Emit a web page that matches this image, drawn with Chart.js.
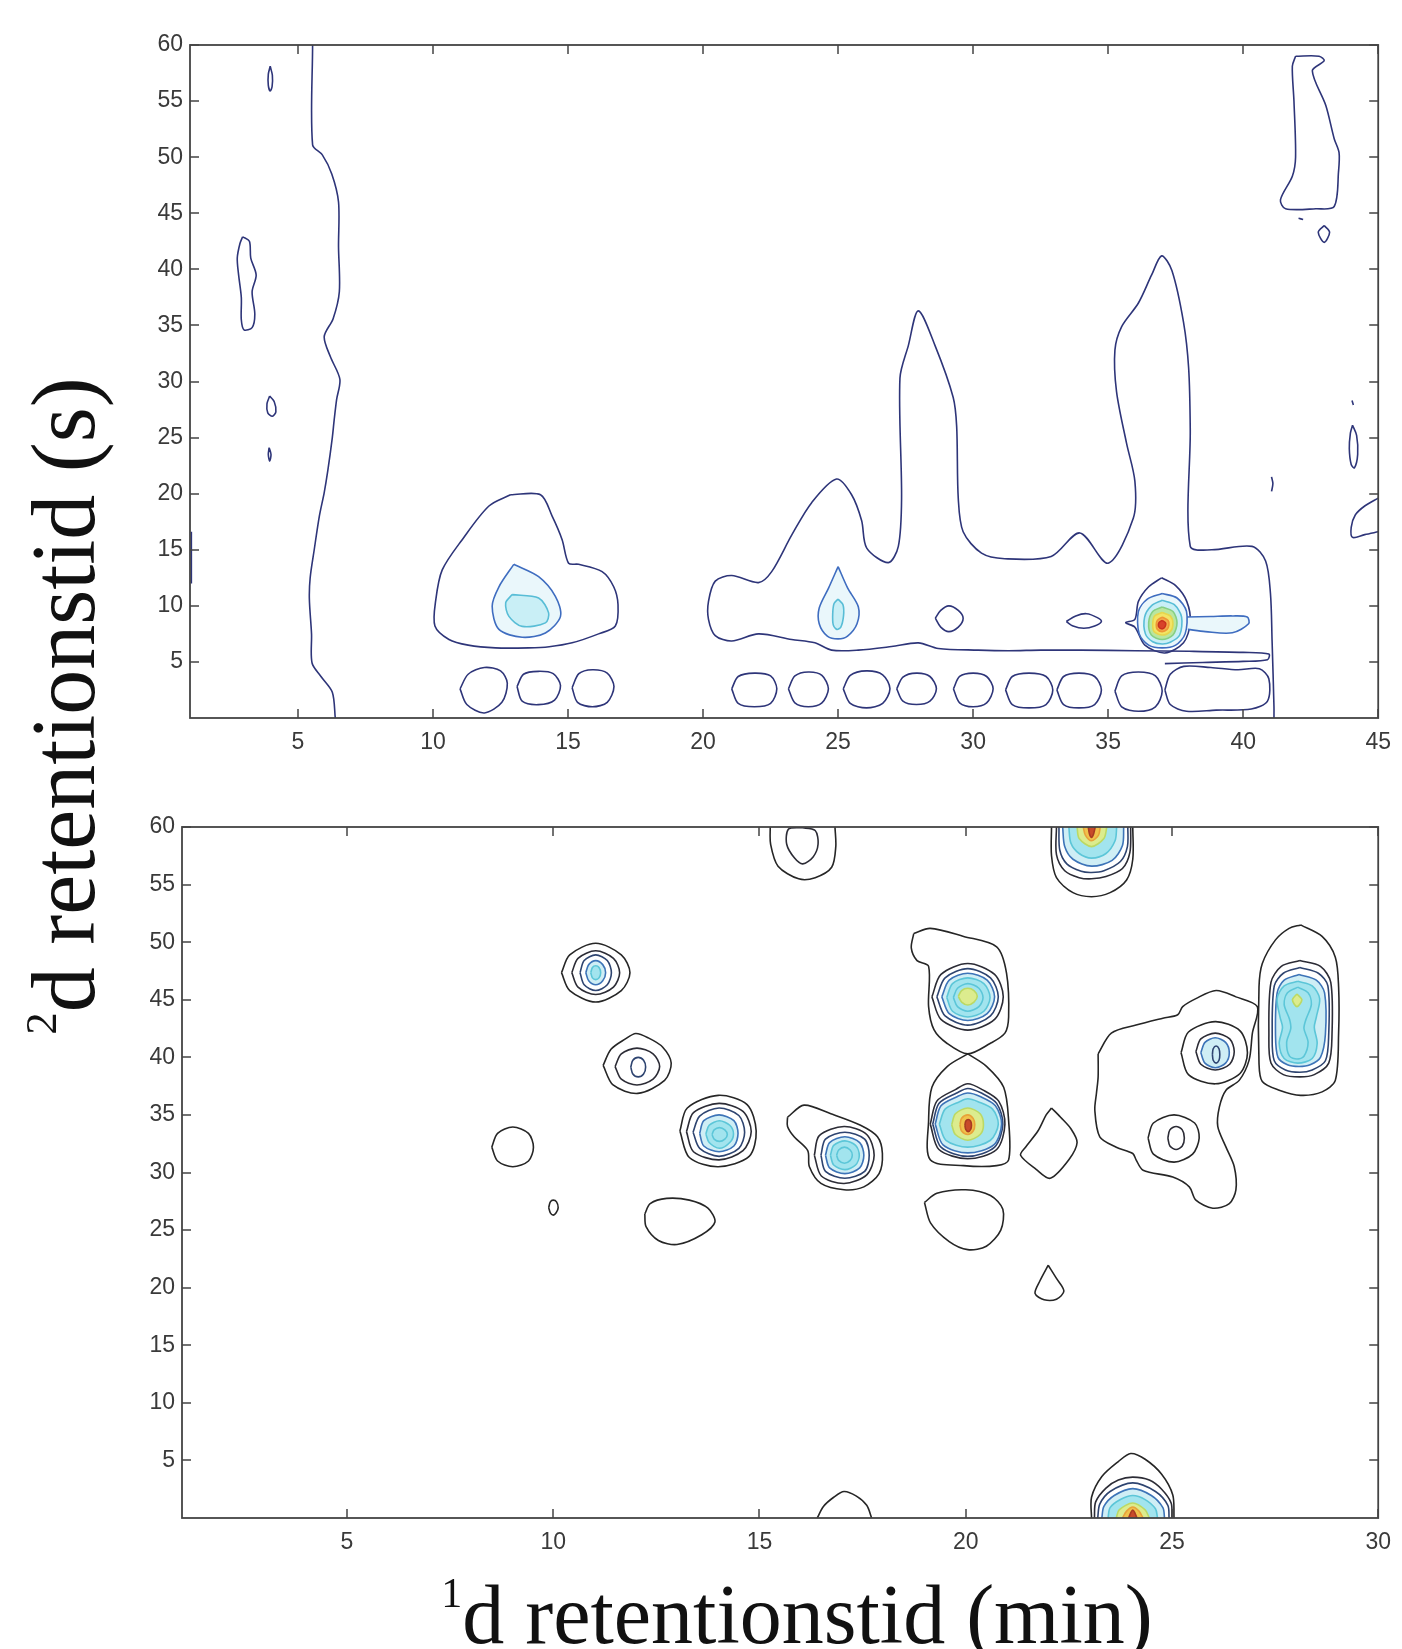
<!DOCTYPE html>
<html>
<head>
<meta charset="utf-8">
<title>2D retention contour</title>
<script src="https://cdn.jsdelivr.net/npm/chart.js@4.4.1/dist/chart.umd.min.js"></script>
<style>
  html, body { margin: 0; padding: 0; background: #fff; }
  body { width: 1402px; height: 1649px; position: relative; overflow: hidden; }
  canvas { position: absolute; left: 0; }
  #cTop { top: 0; }
  #cBottom { top: 780px; }
  .title { position: absolute; font-family: 'Liberation Serif', 'Times New Roman', serif; color: #111; white-space: nowrap; text-align: center; }
  .title sup { font-size: 0.5em; vertical-align: 0.85em; line-height: 0; }
  #xTitle { left: 397px; top: 1573px; width: 800px; font-size: 84px; line-height: 84px; }
  #yTitle { left: -336px; top: 661px; width: 800px; height: 90px; font-size: 90px; line-height: 90px; transform: rotate(-90deg); }
</style>
</head>
<body>
<canvas id="cTop" width="1402" height="780"></canvas>
<canvas id="cBottom" width="1402" height="869"></canvas>
<div class="title" id="yTitle"><sup>2</sup>d retentionstid (s)</div>
<div class="title" id="xTitle"><sup>1</sup>d retentionstid (min)</div>
<script>
// tick labels
const topXTicks = [5, 10, 15, 20, 25, 30, 35, 40, 45];
const topYTicks = [5, 10, 15, 20, 25, 30, 35, 40, 45, 50, 55, 60];
const bottomXTicks = [5, 10, 15, 20, 25, 30];
const bottomYTicks = [5, 10, 15, 20, 25, 30, 35, 40, 45, 50, 55, 60];

// contours: [level, x1, y1, x2, y2, ...]  (x = 1d min, y = 2d s)
// ---- upper panel ----
const topDrift = [
  [1, 5.54,60, 5.54,51.1, 5.9,50.2, 6.25,48.5, 6.5,46, 6.5,42, 6.53,38, 6.3,35.6, 5.97,34, 6.2,32.2, 6.55,30.2, 6.43,28.4, 6.34,26.6, 6.27,25, 6.1,22, 5.97,20.1, 5.79,18, 5.6,15, 5.45,12.5, 5.42,10.6, 5.5,7.5, 5.52,4.9, 5.85,3.7, 6.27,2.3, 6.38,0],
  [1, 1.05,16.6, 1.05,12.0]
];
const topSpecks = [
  [1, 2.95,42.9, 3.2,42.5, 3.25,41, 3.45,39.5, 3.3,38, 3.4,36, 3.3,34.8, 3.0,34.6, 2.9,35.5, 2.9,37.5, 2.8,39.5, 2.75,41, 2.85,42.3, 2.95,42.9],
  [1, 3.97,58.1, 4.05,57.3, 4.04,56.3, 3.97,55.9, 3.9,56.4, 3.9,57.4, 3.97,58.1],
  [1, 3.95,28.7, 4.12,28.2, 4.18,27.3, 4.05,26.9, 3.88,27.2, 3.85,28.0, 3.95,28.7],
  [1, 3.93,24.1, 4.0,23.5, 3.95,22.9, 3.9,23.5, 3.93,24.1]
];
const topPeak13 = [
  [1, 12.87,19.9, 13.98,19.9, 14.41,18.0, 14.78,15.9, 15.02,13.8, 15.39,13.7, 16.26,13.05, 16.69,11.7, 16.85,10.1, 16.75,8.2, 16.13,7.5, 15.15,6.7, 14.3,6.35, 13.54,6.25, 12.31,6.25, 11.3,6.5, 10.59,7.0, 10.07,8.2, 10.1,10.5, 10.34,13.2, 11.08,15.9, 12.07,18.9, 12.87,19.9],
  [2, 12.99,13.7, 13.91,12.6, 14.53,10.85, 14.72,9.06, 14.16,7.58, 13.3,7.2, 12.44,7.9, 12.19,9.96, 12.44,11.7, 12.99,13.7],
  [3, 12.93,11.0, 13.91,10.7, 14.28,9.37, 14.16,8.48, 13.3,8.17, 12.81,9.06, 12.69,10.26, 12.93,11.0],
  [1, 11.0,2.6, 11.3,3.9, 11.9,4.5, 12.5,4.2, 12.75,3.1, 12.55,1.4, 11.9,0.45, 11.25,1.2, 11.0,2.6],
  [1, 13.11,2.8, 13.35,3.9, 13.9,4.16, 14.45,3.95, 14.72,2.9, 14.5,1.6, 13.9,1.19, 13.3,1.5, 13.11,2.8],
  [1, 15.15,2.7, 15.4,3.95, 15.9,4.3, 16.45,4.0, 16.7,2.8, 16.45,1.4, 15.9,1.0, 15.35,1.4, 15.15,2.7]
];
const topRidge = [
  [1, 37.1,4.85, 38.5,4.95, 40.0,5.05, 40.9,5.2, 40.95,5.7, 40.0,5.85, 38,5.95, 36,6.0, 34,6.05, 32.5,6.05, 31.3,6.0, 30.19,6.05, 28.71,6.2, 27.97,6.7, 26.98,6.37, 25.75,6.05, 24.76,6.05, 24.14,6.7, 23.28,7.0, 22.05,7.5, 21.06,6.86, 20.45,7.35, 20.2,8.8, 20.2,10.4, 20.45,12.2, 21.06,12.7, 22.05,12.07, 22.54,13.05, 23.28,16.3, 24.02,19.2, 24.94,21.3, 25.5,19.9, 25.87,17.6, 26.06,15.15, 26.86,13.85, 27.23,15.3, 27.35,19.55, 27.29,30.3, 27.6,33.2, 27.97,36.3, 28.59,33.2, 29.26,28.6, 29.39,26.0, 29.45,19.55, 29.63,16.6, 30.31,14.7, 31.17,14.2, 32.89,14.4, 33.95,16.5, 35.0,13.8, 35.93,17.8, 35.99,21.1, 35.68,24.5, 35.31,29.1, 35.25,32.8, 35.5,34.9, 36.12,37.0, 36.61,39.5, 36.98,41.2, 37.36,39.9, 37.79,35.3, 37.98,31.2, 38.04,25.7, 38.04,15.3, 38.84,15.0, 40.33,15.3, 40.83,14.0, 41.01,11.1, 41.07,6.9, 41.14,1.0, 41.14,0],
  [1, 21.06,2.6, 21.3,3.7, 21.9,4.0, 22.5,3.75, 22.73,2.6, 22.5,1.3, 21.9,1.0, 21.3,1.3, 21.06,2.6],
  [1, 23.16,2.6, 23.4,3.75, 23.9,4.1, 24.4,3.8, 24.64,2.6, 24.4,1.35, 23.9,1.0, 23.4,1.35, 23.16,2.6],
  [1, 25.19,2.6, 25.45,3.8, 26.05,4.2, 26.65,3.85, 26.92,2.6, 26.65,1.3, 26.05,0.9, 25.45,1.3, 25.19,2.6],
  [1, 27.17,2.6, 27.4,3.65, 27.9,4.0, 28.4,3.7, 28.64,2.6, 28.4,1.5, 27.9,1.2, 27.4,1.5, 27.17,2.6],
  [1, 29.27,2.6, 29.5,3.7, 30.0,4.0, 30.5,3.7, 30.74,2.6, 30.5,1.35, 30.0,1.0, 29.5,1.35, 29.27,2.6],
  [1, 31.2,2.5, 31.45,3.7, 32.07,4.0, 32.7,3.7, 32.95,2.5, 32.7,1.2, 32.07,0.9, 31.45,1.2, 31.2,2.5],
  [1, 33.1,2.5, 33.35,3.7, 33.92,4.0, 34.5,3.7, 34.75,2.5, 34.5,1.2, 33.92,0.9, 33.35,1.2, 33.1,2.5],
  [1, 35.25,2.4, 35.5,3.75, 36.12,4.1, 36.75,3.75, 37.0,2.4, 36.75,1.0, 36.12,0.6, 35.5,1.0, 35.25,2.4],
  [1, 37.1,2.5, 37.3,3.9, 37.8,4.6, 38.8,4.5, 39.8,4.3, 40.6,4.4, 40.95,3.5, 40.9,1.5, 40.3,0.8, 39.0,0.7, 37.9,0.6, 37.3,1.2, 37.1,2.5],
  [1, 28.6,8.9, 28.8,9.6, 29.1,10.0, 29.45,9.6, 29.63,8.9, 29.45,8.1, 29.1,7.7, 28.8,8.1, 28.6,8.9],
  [1, 33.45,8.6, 33.8,9.1, 34.2,9.3, 34.6,8.95, 34.75,8.6, 34.5,8.2, 34.1,8.0, 33.7,8.2, 33.45,8.6]
];
const topPeak25 = [
  [2, 25.0,13.5, 25.35,11.6, 25.75,9.9, 25.7,8.4, 25.35,7.3, 25.0,7.05, 24.6,7.3, 24.3,8.4, 24.3,9.8, 24.65,11.6, 25.0,13.5],
  [3, 25.0,10.6, 25.18,10.1, 25.2,9.1, 25.1,8.1, 24.95,7.9, 24.82,8.3, 24.8,9.3, 24.85,10.2, 25.0,10.6]
];
const topPeak37 = [
  [1, 36.98,12.5, 37.5,11.8, 37.91,10.4, 38.04,8.5, 37.79,6.7, 37.1,5.8, 36.36,6.5, 35.99,8.1, 35.65,8.5, 35.99,8.8, 36.12,10.4, 36.5,11.7, 36.98,12.5],
  [2, 37.9,9.0, 38.8,9.05, 39.6,9.1, 40.15,9.0, 40.2,8.4, 39.6,7.6, 38.6,7.7, 37.95,7.9],
  [2, 37.0,11.1, 37.55,10.7, 37.9,9.5, 37.85,7.5, 37.5,6.5, 37.0,6.25, 36.5,6.5, 36.15,7.5, 36.12,9.5, 36.45,10.6, 37.0,11.1],
  [3, 37.0,10.5, 37.45,10.1, 37.72,9.0, 37.65,7.4, 37.3,6.75, 37.0,6.6, 36.65,6.8, 36.38,7.5, 36.35,9.0, 36.6,10.0, 37.0,10.5],
  [4, 37.0,9.9, 37.4,9.5, 37.55,8.5, 37.4,7.4, 37.0,7.0, 36.6,7.4, 36.5,8.5, 36.65,9.5, 37.0,9.9],
  [5, 37.0,9.4, 37.3,9.1, 37.4,8.4, 37.3,7.7, 37.0,7.4, 36.7,7.7, 36.65,8.4, 36.72,9.1, 37.0,9.4],
  [6, 37.0,9.0, 37.22,8.7, 37.25,8.3, 37.18,7.9, 37.0,7.7, 36.82,7.9, 36.78,8.3, 36.82,8.7, 37.0,9.0],
  [7, 37.0,8.7, 37.12,8.5, 37.13,8.3, 37.08,8.05, 36.98,7.95, 36.88,8.1, 36.86,8.35, 36.9,8.55, 37.0,8.7]
];
const topRightEdge = [
  [1, 41.94,59.0, 42.81,59.0, 43.0,58.6, 42.56,57.7, 43.06,54.6, 43.37,51.65, 43.55,50.4, 43.53,48.7, 43.37,45.6, 42.69,45.4, 41.57,45.4, 41.38,46.2, 41.82,48.3, 41.94,50.0, 41.88,55.0, 41.82,58.1, 41.94,59.0],
  [1, 42.05,44.55, 42.22,44.45],
  [1, 43.0,43.9, 43.2,43.3, 43.0,42.4, 42.78,43.3, 43.0,43.9],
  [1, 44.03,28.3, 44.08,27.9],
  [1, 44.05,26.1, 44.2,25.2, 44.24,23.5, 44.12,22.3, 44.0,22.6, 43.93,24.0, 43.97,25.4, 44.05,26.1],
  [1, 41.05,21.5, 41.1,20.9, 41.05,20.2],
  [1, 45,19.6, 44.5,18.9, 44.15,18.1, 44.0,17.0, 44.05,16.1, 44.5,16.35, 45,16.6]
];

// ---- lower panel ----
const bottomLeft = [
  [1, 8.51,32.2, 8.65,33.4, 9.02,33.95, 9.4,33.4, 9.52,32.2, 9.4,31.0, 9.02,30.5, 8.65,31.0, 8.51,32.2],
  [1, 9.89,26.95, 9.93,27.45, 10.0,27.6, 10.08,27.45, 10.12,26.95, 10.07,26.5, 10.0,26.3, 9.93,26.5, 9.89,26.95],
  [1, 12.22,26.4, 12.35,27.3, 12.75,27.75, 13.3,27.6, 13.75,26.9, 13.92,25.7, 13.6,24.6, 13.0,23.75, 12.55,24.1, 12.25,25.3, 12.22,26.4],
  [1, 16.4,0, 16.55,1.0, 16.8,1.8, 17.05,2.3, 17.35,1.9, 17.6,1.1, 17.72,0],
  [1, 15.26,60, 15.27,58.5, 15.45,56.6, 15.95,55.5, 16.35,55.6, 16.75,56.5, 16.85,58.3, 16.83,60],
  [2, 16.0,59.95, 16.35,59.7, 16.42,58.5, 16.3,57.4, 16.05,56.8, 15.85,57.3, 15.66,58.5, 15.7,59.8, 16.0,59.95]
];
const bottomPeak11 = [
  [1, 10.2,47.35, 10.4,48.9, 11.03,49.9, 11.65,48.9, 11.86,47.35, 11.65,45.8, 11.03,44.8, 10.4,45.8, 10.2,47.35],
  [2, 10.45,47.35, 10.6,48.6, 11.03,49.25, 11.46,48.6, 11.61,47.35, 11.46,46.1, 11.03,45.45, 10.6,46.1, 10.45,47.35],
  [3, 10.65,47.35, 10.75,48.4, 11.03,48.9, 11.31,48.4, 11.41,47.35, 11.31,46.3, 11.03,45.8, 10.75,46.3, 10.65,47.35],
  [4, 10.79,47.35, 10.86,48.05, 11.03,48.4, 11.2,48.05, 11.27,47.35, 11.2,46.65, 11.03,46.3, 10.86,46.65, 10.79,47.35],
  [5, 10.91,47.35, 10.95,47.8, 11.03,47.95, 11.11,47.8, 11.15,47.35, 11.11,46.9, 11.03,46.75, 10.95,46.9, 10.91,47.35]
];
const bottomPeak12 = [
  [1, 11.21,39.3, 11.4,40.7, 11.75,41.6, 12.0,42.07, 12.3,41.7, 12.65,40.9, 12.86,39.5, 12.7,38.0, 12.05,36.87, 11.45,37.6, 11.21,39.3],
  [2, 11.5,39.2, 11.65,40.3, 12.03,40.8, 12.42,40.3, 12.58,39.2, 12.42,38.1, 12.03,37.6, 11.65,38.1, 11.5,39.2],
  [3, 11.88,39.15, 11.93,39.75, 12.06,40.0, 12.19,39.75, 12.24,39.15, 12.19,38.55, 12.06,38.3, 11.93,38.55, 11.88,39.15]
];
const bottomPeak14 = [
  [1, 13.07,33.6, 13.25,35.6, 14.0,36.7, 14.7,35.9, 14.92,33.6, 14.75,31.4, 14.0,30.5, 13.3,31.3, 13.07,33.6],
  [2, 13.23,33.55, 13.4,35.2, 14.02,36.0, 14.6,35.3, 14.8,33.55, 14.6,31.9, 14.02,31.1, 13.4,31.8, 13.23,33.55],
  [3, 13.39,33.5, 13.55,34.9, 14.02,35.6, 14.5,34.95, 14.64,33.5, 14.5,32.1, 14.02,31.4, 13.55,32.1, 13.39,33.5],
  [4, 13.55,33.4, 13.65,34.5, 14.02,35.0, 14.38,34.5, 14.48,33.4, 14.38,32.3, 14.02,31.8, 13.65,32.3, 13.55,33.4],
  [5, 13.7,33.35, 13.78,34.1, 14.03,34.5, 14.28,34.1, 14.37,33.35, 14.28,32.6, 14.03,32.1, 13.78,32.6, 13.7,33.35],
  [5, 13.85,33.3, 13.9,33.7, 14.03,33.9, 14.16,33.7, 14.22,33.3, 14.16,32.9, 14.03,32.7, 13.9,32.9, 13.85,33.3]
];
const bottomPeak17 = [
  [1, 15.68,34.8, 16.08,35.85, 16.73,35.1, 17.45,34.1, 17.86,33.1, 17.98,31.65, 17.9,29.9, 17.53,28.75, 17.05,28.5, 16.49,29.05, 16.21,30.5, 16.17,31.9, 15.84,33.1, 15.68,34.0, 15.68,34.8],
  [2, 16.33,31.5, 16.45,33.2, 17.05,34.0, 17.6,33.3, 17.78,31.5, 17.6,29.8, 17.05,29.05, 16.5,29.7, 16.33,31.5],
  [3, 16.49,31.5, 16.6,32.9, 17.07,33.5, 17.55,32.9, 17.66,31.5, 17.55,30.1, 17.07,29.5, 16.6,30.1, 16.49,31.5],
  [4, 16.6,31.5, 16.7,32.6, 17.07,33.1, 17.43,32.6, 17.53,31.5, 17.43,30.4, 17.07,29.9, 16.7,30.4, 16.6,31.5],
  [5, 16.72,31.5, 16.8,32.35, 17.07,32.75, 17.33,32.35, 17.42,31.5, 17.33,30.65, 17.07,30.25, 16.8,30.65, 16.72,31.5],
  [5, 16.87,31.5, 16.92,31.95, 17.06,32.2, 17.2,31.95, 17.25,31.5, 17.2,31.05, 17.06,30.8, 16.92,31.05, 16.87,31.5]
];
const bottomPeak20 = [
  [1, 18.74,50.75, 19.14,51.2, 19.95,50.5, 20.75,49.6, 20.99,47.3, 21.04,43.5, 20.95,42.1, 20.59,41.2, 20.05,40.3, 19.55,41.2, 19.23,42.4, 19.1,44.4, 19.1,47.9, 18.82,48.4, 18.68,49.5, 18.74,50.75],
  [1, 20.05,40.3, 20.51,39.2, 20.92,37.4, 21.04,34.5, 21.04,31.1, 20.75,30.6, 19.95,30.6, 19.14,31.1, 19.1,34.5, 19.18,37.4, 19.55,39.2, 20.05,40.3],
  [2, 19.18,45.25, 19.4,47.2, 20.05,48.15, 20.7,47.2, 20.91,45.25, 20.7,43.3, 20.05,42.36, 19.4,43.3, 19.18,45.25],
  [3, 19.3,45.25, 19.5,46.9, 20.05,47.7, 20.6,46.9, 20.79,45.25, 20.6,43.6, 20.05,42.8, 19.5,43.6, 19.3,45.25],
  [4, 19.42,45.25, 19.6,46.7, 20.05,47.3, 20.52,46.7, 20.7,45.25, 20.52,43.8, 20.05,43.2, 19.6,43.8, 19.42,45.25],
  [5, 19.54,45.2, 19.68,46.4, 20.05,46.9, 20.44,46.4, 20.59,45.2, 20.44,44.0, 20.05,43.5, 19.68,44.0, 19.54,45.2],
  [5, 19.7,45.2, 19.8,46.0, 20.05,46.4, 20.32,46.0, 20.42,45.2, 20.32,44.4, 20.05,44.0, 19.8,44.4, 19.7,45.2],
  [6, 19.82,45.3, 19.9,45.8, 20.05,46.0, 20.2,45.8, 20.28,45.3, 20.2,44.8, 20.05,44.55, 19.9,44.8, 19.82,45.3],
  [2, 19.14,34.2, 19.3,36.2, 19.75,37.2, 20.05,37.7, 20.4,37.2, 20.8,36.2, 20.95,34.2, 20.75,32.0, 20.05,31.2, 19.35,32.0, 19.14,34.2],
  [3, 19.2,34.2, 19.35,36.0, 19.78,36.9, 20.05,37.3, 20.38,36.9, 20.75,36.0, 20.9,34.2, 20.7,32.2, 20.05,31.4, 19.4,32.2, 19.2,34.2],
  [4, 19.26,34.2, 19.4,35.8, 19.8,36.6, 20.05,36.9, 20.35,36.6, 20.72,35.8, 20.87,34.2, 20.68,32.4, 20.05,31.7, 19.45,32.4, 19.26,34.2],
  [5, 19.36,34.2, 19.5,35.5, 19.85,36.15, 20.05,36.4, 20.3,36.15, 20.65,35.5, 20.79,34.2, 20.6,32.8, 20.05,32.2, 19.52,32.8, 19.36,34.2],
  [6, 19.66,34.15, 19.75,35.1, 20.05,35.6, 20.35,35.1, 20.43,34.15, 20.35,33.3, 20.05,32.8, 19.75,33.3, 19.66,34.15],
  [7, 19.86,34.15, 19.9,34.7, 20.05,35.0, 20.18,34.7, 20.22,34.15, 20.18,33.6, 20.05,33.3, 19.9,33.6, 19.86,34.15],
  [8, 19.98,34.1, 20.0,34.45, 20.06,34.6, 20.12,34.45, 20.14,34.1, 20.12,33.75, 20.06,33.55, 20.0,33.75, 19.98,34.1]
];
const bottomMiddle = [
  [1, 22.08,35.6, 22.3,34.8, 22.55,33.8, 22.7,32.6, 22.5,31.1, 22.05,29.5, 21.7,30.3, 21.33,31.5, 21.45,32.2, 21.75,33.6, 21.95,35.0, 22.08,35.6],
  [1, 19.0,27.4, 19.3,28.2, 20.0,28.5, 20.6,28.0, 20.9,26.8, 20.85,25.0, 20.5,23.6, 20.05,23.3, 19.6,24.0, 19.15,25.6, 19.0,27.4],
  [1, 22.0,21.95, 22.2,20.8, 22.38,19.7, 22.2,19.0, 21.9,18.95, 21.68,19.5, 21.8,20.6, 22.0,21.95]
];
const bottomPeak23 = [
  [1, 22.08,60, 22.08,57.5, 22.2,55.6, 22.6,54.3, 23.05,53.95, 23.5,54.3, 23.9,55.4, 24.05,57.2, 24.05,60],
  [2, 22.2,60, 22.2,57.6, 22.4,56.2, 22.75,55.6, 23.05,55.5, 23.4,55.7, 23.8,56.4, 23.98,57.8, 24.0,60],
  [3, 22.26,60, 22.28,58.0, 22.45,56.8, 22.8,56.15, 23.05,56.05, 23.35,56.2, 23.75,57.0, 23.92,58.3, 23.93,60],
  [4, 22.35,60, 22.4,58.3, 22.6,57.2, 23.05,56.6, 23.55,57.1, 23.8,58.4, 23.83,60],
  [5, 22.5,60, 22.55,58.6, 22.75,57.7, 23.05,57.3, 23.4,57.7, 23.62,58.8, 23.66,60],
  [6, 22.7,60, 22.75,59.0, 23.05,58.3, 23.35,59.0, 23.42,60],
  [7, 22.85,60, 22.9,59.3, 23.05,58.8, 23.22,59.3, 23.26,60],
  [8, 22.97,60, 23.0,59.4, 23.05,59.1, 23.1,59.4, 23.14,60]
];
const bottomPeak24 = [
  [1, 23.05,0, 23.05,1.8, 23.3,3.6, 23.7,4.9, 24.0,5.6, 24.35,5.1, 24.75,3.8, 25.02,2.0, 25.05,0],
  [2, 23.12,0, 23.15,1.4, 23.4,2.6, 23.7,3.3, 24.05,3.55, 24.45,3.3, 24.75,2.5, 24.98,1.3, 25.0,0],
  [3, 23.2,0, 23.25,1.2, 23.5,2.3, 24.05,3.05, 24.6,2.3, 24.9,1.1, 24.93,0],
  [4, 23.3,0, 23.35,1.0, 23.6,1.95, 24.05,2.55, 24.5,1.95, 24.78,0.9, 24.82,0],
  [5, 23.45,0, 23.5,0.9, 23.75,1.6, 24.05,1.95, 24.35,1.6, 24.6,0.8, 24.65,0],
  [6, 23.65,0, 23.72,0.7, 24.05,1.3, 24.35,0.7, 24.45,0],
  [7, 23.8,0, 23.9,0.6, 24.05,0.95, 24.2,0.6, 24.3,0],
  [8, 23.95,0, 24.0,0.45, 24.05,0.7, 24.1,0.45, 24.15,0]
];
const bottomCluster = [
  [1, 23.21,40.3, 23.53,42.1, 24.13,42.8, 24.78,43.4, 25.14,43.7, 25.26,44.4, 25.58,45.1, 26.07,45.8, 26.55,45.25, 27.07,44.4, 26.95,42.1, 26.87,39.76, 26.63,38.0, 26.31,37.15, 26.15,35.7, 26.11,34.0, 26.31,32.2, 26.51,30.5, 26.55,28.5, 26.39,27.3, 25.99,26.9, 25.58,27.6, 25.42,28.75, 25.02,29.6, 24.3,30.2, 24.13,31.1, 24.05,31.65, 23.65,32.2, 23.25,33.1, 23.13,35.4, 23.17,36.9, 23.21,38.3, 23.21,40.3],
  [1, 25.22,40.4, 25.4,42.2, 26.05,43.1, 26.65,42.3, 26.83,40.4, 26.65,38.6, 26.05,37.7, 25.4,38.5, 25.22,40.4],
  [2, 25.58,40.5, 25.7,41.6, 26.05,42.1, 26.4,41.6, 26.51,40.5, 26.4,39.4, 26.05,38.9, 25.7,39.4, 25.58,40.5],
  [4, 25.7,40.4, 25.8,41.3, 26.05,41.7, 26.3,41.3, 26.39,40.4, 26.3,39.5, 26.05,39.1, 25.8,39.5, 25.7,40.4],
  [3, 25.98,40.25, 26.0,40.75, 26.07,40.99, 26.14,40.75, 26.16,40.25, 26.14,39.75, 26.07,39.5, 26.0,39.75, 25.98,40.25],
  [1, 24.42,33.0, 24.55,34.3, 25.05,35.0, 25.55,34.3, 25.66,33.0, 25.5,31.6, 25.05,30.9, 24.55,31.6, 24.42,33.0],
  [2, 24.9,33.0, 24.95,33.7, 25.1,34.0, 25.25,33.7, 25.3,33.0, 25.25,32.3, 25.1,32.0, 24.95,32.3, 24.9,33.0]
];
const bottomPeak28 = [
  [1, 28.12,51.5, 28.64,50.5, 28.96,48.7, 29.04,46.1, 29.04,42.1, 28.96,38.0, 28.64,37.0, 28.12,36.7, 27.6,37.15, 27.19,37.9, 27.11,39.5, 27.11,46.1, 27.19,48.15, 27.51,50.2, 27.84,51.2, 28.12,51.5],
  [2, 28.1,48.4, 28.6,47.9, 28.85,46.5, 28.88,42, 28.8,39.5, 28.45,38.5, 28.1,38.3, 27.7,38.5, 27.4,39.5, 27.35,42, 27.4,46.5, 27.65,47.9, 28.1,48.4],
  [3, 28.1,47.8, 28.55,47.3, 28.78,46.2, 28.8,42, 28.72,39.7, 28.4,38.9, 28.1,38.7, 27.75,38.9, 27.48,39.7, 27.43,42, 27.48,46.2, 27.7,47.3, 28.1,47.8],
  [4, 28.08,47.2, 28.5,46.7, 28.7,45.6, 28.72,42, 28.6,40.0, 28.35,39.35, 28.08,39.2, 27.8,39.35, 27.57,40.0, 27.51,42, 27.55,45.6, 27.72,46.7, 28.08,47.2],
  [5, 28.05,46.6, 28.4,46.2, 28.58,45.1, 28.5,43.5, 28.45,42.6, 28.52,41.2, 28.4,39.9, 28.05,39.5, 27.72,39.9, 27.6,41.2, 27.68,42.6, 27.62,43.5, 27.55,45.1, 27.72,46.2, 28.05,46.6],
  [5, 28.05,46.1, 28.3,45.6, 28.38,44.6, 28.25,43.3, 28.2,42.5, 28.3,41.3, 28.2,40.1, 28.03,39.85, 27.85,40.1, 27.78,41.3, 27.88,42.5, 27.85,43.3, 27.72,44.6, 27.8,45.6, 28.05,46.1],
  [6, 28.03,45.5, 28.15,45.0, 28.03,44.4, 27.92,45.0, 28.03,45.5]
];

// contour level -> line / fill colour
const topStyle = {
  1: { c: '#2e3579' },
  2: { c: '#3f6dc0', f: '#eaf7fb' },
  3: { c: '#58bdd6', f: '#c9eff6' },
  4: { c: '#86cf84', f: '#b9e6a0' },
  5: { c: '#e6d64c', f: '#f2e466' },
  6: { c: '#ee9636', f: '#f3ac4c' },
  7: { c: '#c8321e', f: '#d8432a' }
};
const bottomStyle = {
  1: { c: '#262626' },
  2: { c: '#2c2c36' },
  3: { c: '#2e4470' },
  4: { c: '#3d74b8', f: '#cfeef5' },
  5: { c: '#5cc6d8', f: '#a2e4ee' },
  6: { c: '#bcd964', f: '#dcec8e' },
  7: { c: '#e8a23a', f: '#f0c24c' },
  8: { c: '#a83a22', f: '#c84a2a' }
};

const toPoints = (flat) => {
  const pts = [];
  for (let i = 1; i < flat.length; i += 2) pts.push({ x: flat[i], y: flat[i + 1] });
  return pts;
};

const buildDatasets = (groups, style) => {
  const list = groups.flat();
  return list.map((c, i) => {
    const s = style[c[0]];
    return {
      data: toPoints(c),
      showLine: true,
      pointRadius: 0,
      pointHoverRadius: 0,
      borderColor: s.c,
      borderWidth: 1.6,
      backgroundColor: s.f || 'transparent',
      fill: s.f ? 'shape' : false,
      tension: 0.3,
      order: list.length - i
    };
  });
};

// box round the plot and inward tick marks on all four sides
const boxPlugin = {
  id: 'box',
  afterDatasetsDraw(chart) {
    const { ctx, chartArea: a, scales: { x, y } } = chart;
    ctx.save();
    ctx.strokeStyle = '#444';
    ctx.lineWidth = 1.8;
    ctx.strokeRect(a.left, a.top, a.right - a.left, a.bottom - a.top);
    ctx.lineWidth = 1.5;
    ctx.beginPath();
    x.ticks.forEach(t => {
      const px = Math.round(x.getPixelForValue(t.value));
      ctx.moveTo(px, a.bottom); ctx.lineTo(px, a.bottom - 9);
      ctx.moveTo(px, a.top); ctx.lineTo(px, a.top + 9);
    });
    y.ticks.forEach(t => {
      const py = Math.round(y.getPixelForValue(t.value));
      ctx.moveTo(a.left, py); ctx.lineTo(a.left + 9, py);
      ctx.moveTo(a.right, py); ctx.lineTo(a.right - 9, py);
    });
    ctx.stroke();
    ctx.restore();
  }
};

const tickFont = { family: "'Liberation Sans', Arial, sans-serif", size: 23 };

const makeChart = (id, datasets, xMax, xTicks, yTicks, box) => new Chart(document.getElementById(id), {
  type: 'scatter',
  data: { datasets },
  options: {
    responsive: false,
    animation: false,
    devicePixelRatio: 1,
    events: [],
    layout: { padding: { top: box.top, right: box.right, left: 0, bottom: 0 } },
    plugins: { legend: { display: false }, tooltip: { enabled: false } },
    scales: {
      x: {
        type: 'linear', min: 1, max: xMax,
        grid: { display: false, drawTicks: false },
        border: { display: false },
        afterBuildTicks: s => { s.ticks = xTicks.map(v => ({ value: v })); },
        afterFit: s => { s.height = box.xh; },
        ticks: { autoSkip: false, maxRotation: 0, padding: 11, color: '#3a3a3a', font: tickFont }
      },
      y: {
        type: 'linear', min: 0, max: 60,
        grid: { display: false, drawTicks: false },
        border: { display: false },
        afterBuildTicks: s => { s.ticks = yTicks.map(v => ({ value: v })); },
        afterFit: s => { s.width = box.yw; },
        ticks: { autoSkip: false, padding: 7, color: '#3a3a3a', font: tickFont }
      }
    }
  },
  plugins: [boxPlugin]
});

makeChart('cTop',
  buildDatasets([topDrift, topSpecks, topPeak13, topRidge, topPeak25, topPeak37, topRightEdge], topStyle),
  45, topXTicks, topYTicks, { top: 45, right: 21, xh: 62, yw: 190 });

makeChart('cBottom',
  buildDatasets([bottomLeft, bottomPeak11, bottomPeak12, bottomPeak14, bottomPeak17, bottomPeak20, bottomMiddle, bottomPeak23, bottomPeak24, bottomCluster, bottomPeak28], bottomStyle),
  30, bottomXTicks, bottomYTicks, { top: 47, right: 19, xh: 131, yw: 182 });
</script>
</body>
</html>
